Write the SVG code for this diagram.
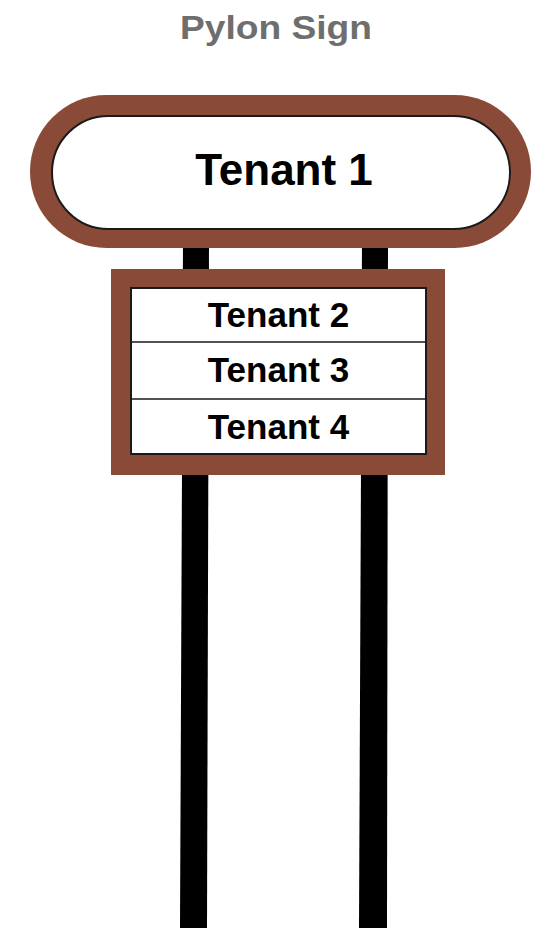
<svg xmlns="http://www.w3.org/2000/svg" width="533" height="928" viewBox="0 0 533 928">
<style>
.brown{fill:#8a4a38}
.panel{fill:#fff;stroke:#1a1a1a;stroke-width:2}
.post{fill:#000}
.t{font-family:"Liberation Sans",Arial,sans-serif;font-weight:700;fill:#000;text-anchor:middle}
.title{font-family:"Liberation Sans",Arial,sans-serif;font-weight:700;fill:#6e6e6e;text-anchor:middle;font-size:33px}
</style>
<rect width="533" height="928" fill="#fff"/>
<text class="title" x="276" y="39" textLength="192" lengthAdjust="spacingAndGlyphs">Pylon Sign</text>
<g id="posts">
<polygon class="post" points="183,240 209,240 207,928 180,928"/>
<polygon class="post" points="362,240 388,240 387,928 359,928"/>
</g>
<g id="tenant1">
<rect class="brown" x="30" y="95" width="501" height="153" rx="76.5"/>
<rect class="panel" x="52" y="116" width="458" height="113" rx="56.5"/>
<text class="t" x="284" y="185" font-size="44">Tenant 1</text>
</g>
<g id="lowerbox">
<rect class="brown" x="111" y="269" width="334" height="206"/>
<rect class="panel" x="131" y="288" width="295" height="166"/>
<line x1="131" y1="342" x2="426" y2="342" stroke="#1a1a1a" stroke-width="1.5"/>
<line x1="131" y1="399" x2="426" y2="399" stroke="#1a1a1a" stroke-width="1.5"/>
</g>
<g id="tenant2"><text class="t" x="278.5" y="327" font-size="35">Tenant 2</text></g>
<g id="tenant3"><text class="t" x="278.5" y="382" font-size="35">Tenant 3</text></g>
<g id="tenant4"><text class="t" x="278.5" y="439" font-size="35">Tenant 4</text></g>
</svg>
